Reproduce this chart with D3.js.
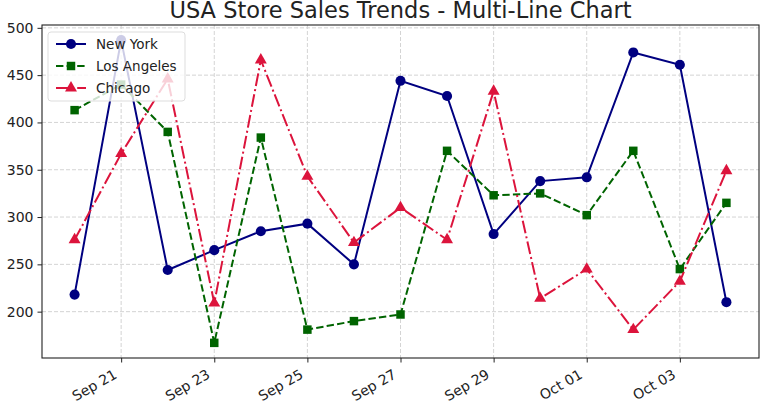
<!DOCTYPE html>
<html>
<head>
<meta charset="utf-8">
<script src="https://cdn.jsdelivr.net/npm/d3@7"></script>
<style>
  body { margin: 0; background: #fff; }
  text { font-family: "DejaVu Sans", sans-serif; fill: #222; }
</style>
</head>
<body>
<div id="chart"></div>
<script>
// data
var dates = ["2023-09-20", "2023-09-21", "2023-09-22", "2023-09-23", "2023-09-24",
  "2023-09-25", "2023-09-26", "2023-09-27", "2023-09-28", "2023-09-29",
  "2023-09-30", "2023-10-01", "2023-10-02", "2023-10-03", "2023-10-04"];
var newYork = [218, 487, 244, 265, 285, 293, 250, 444, 428, 282, 338, 342, 474, 461, 210];
var losAngeles = [413, 440, 390, 167, 384, 181, 190, 197, 370, 323, 325, 302, 370, 245, 315];
var chicago = [276, 367, 446, 209, 466, 343, 273, 310, 276, 433, 214, 245, 181, 232, 349];
var yTicks = [200, 250, 300, 350, 400, 450, 500];
var chartTitle = "USA Store Sales Trends - Multi-Line Chart";

var svgWidth = 768;
var svgHeight = 403;

var margin = {top: 25, right: 9, bottom: 45, left: 42};
var width = svgWidth - margin.left - margin.right;
var height = svgHeight - margin.top - margin.bottom;

var parseDate = d3.timeParse("%Y-%m-%d");
var days = dates.map(parseDate);

var series = [
  {name: "New York", values: newYork, color: "#000080", dash: null, marker: d3.symbolCircle, size: 80},
  {name: "Los Angeles", values: losAngeles, color: "#006400", dash: "7.4,3.2", marker: d3.symbolSquare, size: 72},
  {name: "Chicago", values: chicago, color: "#DC143C", dash: "12.8,3.2,2,3.2", marker: d3.symbolTriangle, size: 62}
];

var svg = d3.select("#chart")
  .append("svg")
  .attr("width", svgWidth)
  .attr("height", svgHeight);

var chartGroup = svg.append("g")
  .attr("transform", `translate(${margin.left}, ${margin.top})`);

// scales with matplotlib-like 5% padding
var xSpan = days[days.length - 1] - days[0];
var xScale = d3.scaleTime()
  .domain([new Date(+days[0] - xSpan * 0.05), new Date(+days[days.length - 1] + xSpan * 0.05)])
  .range([0, width]);

var allVals = newYork.concat(losAngeles, chicago);
var yMin = d3.min(allVals), yMax = d3.max(allVals);
var yPad = (yMax - yMin) * 0.05;
var yScale = d3.scaleLinear()
  .domain([yMin - yPad, yMax + yPad])
  .range([height, 0]);

var xTickDates = days.filter((d, i) => i % 2 === 1);

// grid
chartGroup.append("g")
  .selectAll("line")
  .data(yTicks)
  .enter()
  .append("line")
  .attr("x1", 0)
  .attr("x2", width)
  .attr("y1", d => yScale(d))
  .attr("y2", d => yScale(d))
  .attr("stroke", "#cfcfcf")
  .attr("stroke-width", 0.9)
  .attr("stroke-dasharray", "4,2");

chartGroup.append("g")
  .selectAll("line")
  .data(xTickDates)
  .enter()
  .append("line")
  .attr("x1", d => xScale(d))
  .attr("x2", d => xScale(d))
  .attr("y1", 0)
  .attr("y2", height)
  .attr("stroke", "#cfcfcf")
  .attr("stroke-width", 0.9)
  .attr("stroke-dasharray", "4,2");

// axes
var bottomAxis = d3.axisBottom(xScale)
  .tickValues(xTickDates)
  .tickFormat(d3.timeFormat("%b %d"))
  .tickSize(4.5);
var leftAxis = d3.axisLeft(yScale)
  .tickValues(yTicks)
  .tickSize(4.5)
  .tickPadding(4);

var xAxisG = chartGroup.append("g")
  .attr("transform", `translate(0, ${height})`)
  .call(bottomAxis);
xAxisG.select(".domain").remove();
xAxisG.selectAll(".tick text")
  .attr("x", 0)
  .attr("y", 0)
  .attr("dy", "0.76em")
  .attr("text-anchor", "end")
  .attr("transform", "translate(-9, 10) rotate(-30)")
  .style("font-size", "14px")
  .style("font-family", "DejaVu Sans")
  .attr("fill", "#222");

var yAxisG = chartGroup.append("g").call(leftAxis);
yAxisG.select(".domain").remove();
yAxisG.selectAll("text")
  .style("font-size", "14px")
  .style("font-family", "DejaVu Sans")
  .attr("fill", "#222");

chartGroup.selectAll(".tick line").attr("stroke", "#222");

// lines and markers
var lineGen = d3.line()
  .x((d, i) => xScale(days[i]))
  .y(d => yScale(d));

series.forEach(s => {
  chartGroup.append("path")
    .datum(s.values)
    .attr("fill", "none")
    .attr("stroke", s.color)
    .attr("stroke-width", 2)
    .attr("stroke-dasharray", s.dash)
    .attr("d", lineGen);

  chartGroup.append("g")
    .selectAll("path")
    .data(s.values)
    .enter()
    .append("path")
    .attr("d", d3.symbol().type(s.marker).size(s.size))
    .attr("transform", (d, i) => `translate(${xScale(days[i])}, ${yScale(d)})`)
    .attr("fill", s.color);
});

// frame
chartGroup.append("rect")
  .attr("width", width)
  .attr("height", height)
  .attr("fill", "none")
  .attr("stroke", "#222")
  .attr("stroke-width", 1.1);

// title
svg.append("text")
  .attr("x", margin.left + width / 2)
  .attr("y", 18)
  .attr("text-anchor", "middle")
  .style("font-size", "22.5px")
  .text(chartTitle);

// legend
var legend = chartGroup.append("g")
  .attr("transform", "translate(6, 7)");
legend.append("rect")
  .attr("width", 137)
  .attr("height", 69)
  .attr("rx", 3)
  .attr("fill", "#fff")
  .attr("fill-opacity", 0.8)
  .attr("stroke", "#ddd");

series.forEach((s, i) => {
  var row = legend.append("g").attr("transform", `translate(8, ${12 + i * 22})`);
  row.append("line")
    .attr("x1", 0).attr("x2", 30)
    .attr("stroke", s.color)
    .attr("stroke-width", 2)
    .attr("stroke-dasharray", s.dash);
  row.append("path")
    .attr("d", d3.symbol().type(s.marker).size(s.size))
    .attr("transform", "translate(15, 0)")
    .attr("fill", s.color);
  row.append("text")
    .attr("x", 40)
    .attr("y", 5)
    .style("font-size", "13.5px")
    .text(s.name);
});
</script>
</body>
</html>
